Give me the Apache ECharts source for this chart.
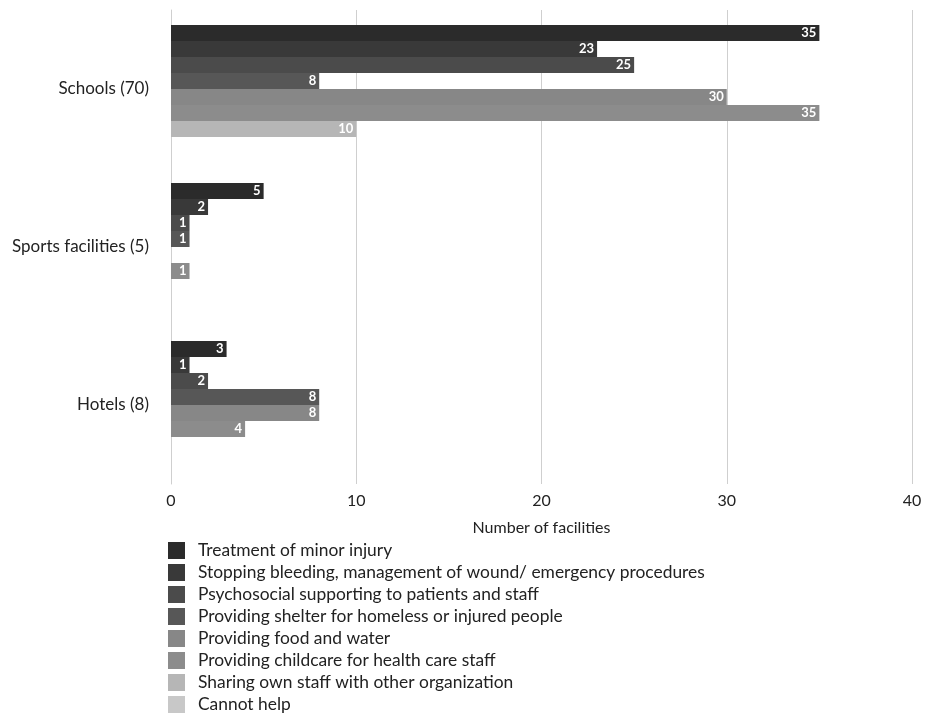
<!DOCTYPE html>
<html><head><meta charset="utf-8">
<script src="https://cdn.jsdelivr.net/npm/echarts@6/dist/echarts.min.js"></script>
<style>html,body{margin:0;padding:0;background:#fff}#c{width:927px;height:720px}</style>
</head><body><div id="c"></div>
<script>
const categories = ['Schools (70)', 'Sports facilities (5)', 'Hotels (8)'];
const seriesNames = [
  'Treatment of minor injury',
  'Stopping bleeding, management of wound/ emergency procedures',
  'Psychosocial supporting to patients and staff',
  'Providing shelter for homeless or injured people',
  'Providing food and water',
  'Providing childcare for health care staff',
  'Sharing own staff with other organization',
  'Cannot help'
];
const treatment = [35, 5, 3];
const bleeding = [23, 2, 1];
const psychosocial = [25, 1, 2];
const shelter = [8, 1, 8];
const food = [30, 0, 8];
const childcare = [35, 1, 4];
const sharing = [10, 0, 0];
const cannotHelp = [0, 0, 0];
const xTicks = [0, 10, 20, 30, 40];
const colors = ['#2b2b2b', '#393939', '#4b4b4b', '#575757', '#878787', '#8c8c8c', '#b6b6b6', '#c8c8c8'];

const values = [treatment, bleeding, psychosocial, shelter, food, childcare, sharing, cannotHelp];
const FONT = 'Lato, "Open Sans", sans-serif';
const chart = echarts.init(document.getElementById('c'));
chart.setOption({
  animation: false,
  textStyle: { fontFamily: FONT },
  color: colors,
  grid: { left: 171, right: 15, top: 10, bottom: 236, containLabel: false },
  xAxis: {
    type: 'value', min: xTicks[0], max: xTicks[xTicks.length - 1], interval: 10,
    name: 'Number of facilities', nameLocation: 'middle', nameGap: 36,
    nameTextStyle: { fontSize: 16, color: '#222', fontFamily: FONT },
    axisLine: { show: false }, axisTick: { show: false },
    axisLabel: { fontSize: 16, color: '#222', margin: 9, fontFamily: FONT },
    splitLine: { lineStyle: { color: '#cfcfcf', width: 1 } }
  },
  yAxis: {
    type: 'category', data: categories, inverse: true,
    axisLine: { show: true, lineStyle: { color: '#cfcfcf', width: 1 } },
    axisTick: { show: false },
    axisLabel: { fontSize: 17, color: '#222', margin: 22, fontFamily: FONT }
  },
  legend: {
    orient: 'vertical', left: 168, top: 542, padding: 0,
    itemWidth: 17, itemHeight: 17, itemGap: 5, icon: 'rect',
    textStyle: { fontSize: 17.4, lineHeight: 17, color: '#222', fontFamily: FONT, padding: [0, 0, 0, 8] },
    data: seriesNames
  },
  series: seriesNames.map((n, i) => ({
    name: n, type: 'bar', data: values[i], barWidth: 16, barGap: '0%',
    itemStyle: { color: colors[i] },
    label: {
      show: true, position: 'insideRight', color: '#fff', fontSize: 13, fontWeight: 'bold',
      distance: 3, fontFamily: FONT,
      formatter: p => (p.value ? String(p.value) : '')
    }
  }))
});
</script></body></html>
